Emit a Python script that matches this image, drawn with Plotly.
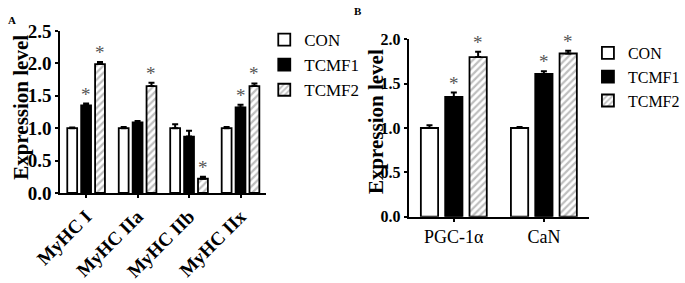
import plotly.graph_objects as go

# ---------------- data ----------------
groups = ["CON", "TCMF1", "TCMF2"]

cats_a = ["MyHC I", "MyHC IIa", "MyHC IIb", "MyHC IIx"]
con_a = [1.00, 1.00, 1.00, 1.00]
tcmf1_a = [1.35, 1.09, 0.87, 1.32]
tcmf2_a = [1.99, 1.65, 0.22, 1.65]
con_a_err = [0.01, 0.02, 0.06, 0.02]
tcmf1_a_err = [0.03, 0.02, 0.09, 0.04]
tcmf2_a_err = [0.03, 0.05, 0.03, 0.04]
sig_a = {"CON": [False] * 4, "TCMF1": [True, False, False, True], "TCMF2": [True, True, True, True]}

cats_b = ["PGC-1\u03b1", "CaN"]
con_b = [1.00, 1.00]
tcmf1_b = [1.35, 1.61]
tcmf2_b = [1.80, 1.84]
con_b_err = [0.03, 0.01]
tcmf1_b_err = [0.05, 0.03]
tcmf2_b_err = [0.06, 0.03]
sig_b = {"CON": [False, False], "TCMF1": [True, True], "TCMF2": [True, True]}

y_title = "Expression level"

# ---------------- style ----------------
SERIF = "Liberation Serif"
BARGAP = 0.19
BARGROUPGAP = 0.29
W, H = 685, 283

styles = {
    "CON": dict(color="white", line=dict(color="black", width=1.8)),
    "TCMF1": dict(color="black", line=dict(color="black", width=1.8)),
    "TCMF2": dict(color="white", line=dict(color="black", width=1.8),
                  pattern=dict(shape="/", fgcolor="#7f7f7f", bgcolor="white", size=5, solidity=0.45)),
}

fig = go.Figure()
annotations = []


def add_panel(cats, vals, errs, sig, xa, ya, legend):
    n = len(cats)
    xs = list(range(n))
    slot = (1 - BARGAP) / 3
    for j, g in enumerate(groups):
        fig.add_trace(go.Bar(
            x=xs, y=vals[j], name=g, marker=styles[g], xaxis=xa, yaxis=ya,
            legend=legend, offsetgroup=str(j), hoverinfo="skip",
            error_y=dict(type="data", array=errs[j], arrayminus=[0] * n, symmetric=False,
                         color="black", thickness=2, width=3),
        ))
        for i in range(n):
            if sig[g][i]:
                annotations.append(dict(
                    x=i + (j - 1) * slot, y=vals[j][i] + errs[j][i], xref=xa, yref=ya,
                    text="*", showarrow=False, yanchor="bottom", yshift=-3,
                    font=dict(family=SERIF, size=19, color="#555555"),
                ))


add_panel(cats_a, [con_a, tcmf1_a, tcmf2_a], [con_a_err, tcmf1_a_err, tcmf2_a_err], sig_a, "x", "y", "legend")
add_panel(cats_b, [con_b, tcmf1_b, tcmf2_b], [con_b_err, tcmf1_b_err, tcmf2_b_err], sig_b, "x2", "y2", "legend2")

# panel letters
annotations.append(dict(x=12 / W, y=1 - 20 / H, xref="paper", yref="paper", text="A", showarrow=False,
                        xanchor="center", yanchor="middle",
                        font=dict(family=SERIF, size=11, color="black", weight="bold")))
annotations.append(dict(x=362 / W, y=1 - 11 / H, xref="paper", yref="paper", text="B", showarrow=False,
                        xanchor="center", yanchor="middle",
                        font=dict(family=SERIF, size=11, color="black", weight="bold")))
# y-axis titles
annotations.append(dict(x=21 / W, y=1 - 107 / H, xref="paper", yref="paper", text=y_title, showarrow=False,
                        xanchor="center", yanchor="middle", textangle=-90,
                        font=dict(family=SERIF, size=21, color="black", weight="bold")))
annotations.append(dict(x=380 / W, y=1 - 122 / H, xref="paper", yref="paper", text=y_title, showarrow=False,
                        xanchor="center", yanchor="middle", textangle=-90,
                        font=dict(family=SERIF, size=21, color="black", weight="bold")))

axis_common = dict(showline=True, linecolor="black", linewidth=2, ticks="outside", tickcolor="black",
                   tickwidth=2, ticklen=3, showgrid=False, zeroline=False, automargin=False)

fig.update_layout(
    width=W, height=H, margin=dict(l=0, r=0, t=0, b=0),
    paper_bgcolor="white", plot_bgcolor="white",
    barmode="group", bargap=BARGAP, bargroupgap=BARGROUPGAP,
    annotations=annotations,
    xaxis=dict(domain=[61 / W, 269 / W], anchor="y", range=[-0.5, len(cats_a) - 0.5],
               tickvals=list(range(len(cats_a))), ticktext=cats_a, tickangle=-45,
               tickfont=dict(family=SERIF, size=19, color="black", weight="bold"), **axis_common),
    yaxis=dict(domain=[1 - 193 / H, 1 - 31 / H], anchor="x", range=[0, 2.5], dtick=0.5, tickformat=".1f",
               tickfont=dict(family=SERIF, size=19, color="black", weight="bold"), **axis_common),
    xaxis2=dict(domain=[413 / W, 595 / W], anchor="y2", range=[-0.5, len(cats_b) - 0.5],
                tickvals=list(range(len(cats_b))), ticktext=cats_b, tickangle=0,
                tickfont=dict(family=SERIF, size=18, color="black"), **axis_common),
    yaxis2=dict(domain=[1 - 216.7 / H, 1 - 39.3 / H], anchor="x2", range=[0, 2.0], dtick=0.5, tickformat=".1f",
                tickfont=dict(family=SERIF, size=16, color="black", weight="bold"), **axis_common),
    legend=dict(x=267 / W, y=1 - 22 / H, xanchor="left", yanchor="top", bgcolor="rgba(0,0,0,0)",
                font=dict(family=SERIF, size=17, color="black"), tracegroupgap=0),
    legend2=dict(x=594 / W, y=1 - 36 / H, xanchor="left", yanchor="top", bgcolor="rgba(0,0,0,0)",
                 font=dict(family=SERIF, size=16, color="black"), tracegroupgap=0),
)

fig.write_html("out.html", config={"displayModeBar": False},
               post_script="document.body.style.margin='0px';")
